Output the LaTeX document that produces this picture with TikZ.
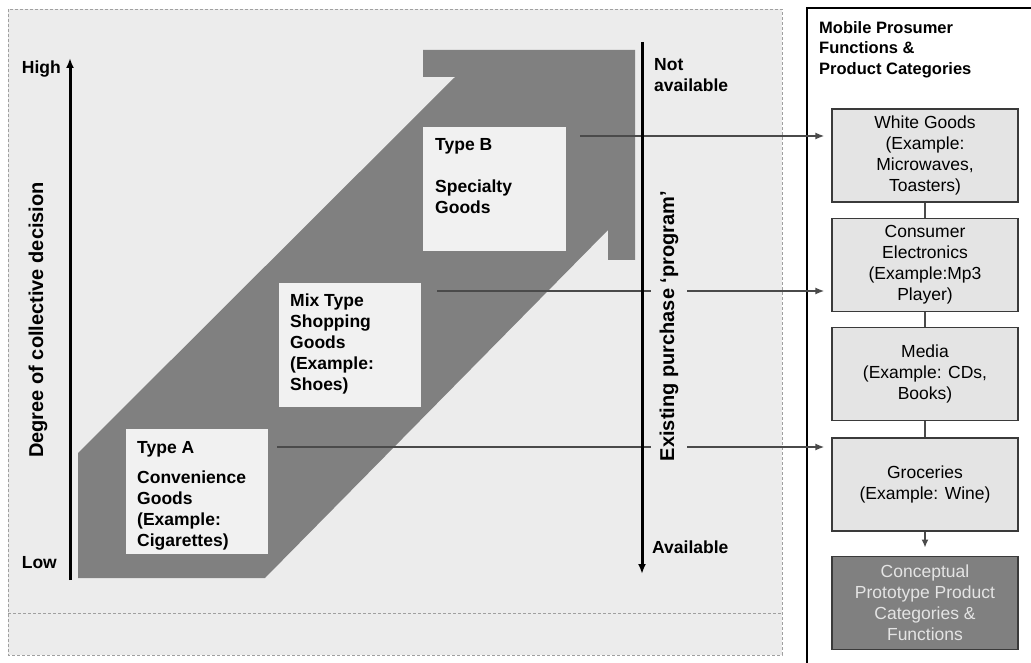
\documentclass[tikz,border=0pt]{standalone}
\usepackage{fontspec}
\setmainfont{Liberation Sans}
\usetikzlibrary{positioning,arrows.meta}
\definecolor{panel}{HTML}{ECECEC}
\definecolor{band}{HTML}{808080}
\definecolor{card}{HTML}{F1F1F1}
\definecolor{catfill}{HTML}{E4E4E4}
\definecolor{catline}{HTML}{3A3A3A}
\definecolor{linkgray}{HTML}{4A4A4A}
\definecolor{dashgray}{HTML}{A0A0A0}
\begin{document}
\begin{tikzpicture}[x=1pt, y=-1pt,
    axis/.style={line width=3pt, -{Latex[length=10pt,width=8pt]}},
    axislabel/.style={font=\fontsize{20}{24}\selectfont\bfseries},
    endlabel/.style={align=left, inner sep=0pt, font=\fontsize{17.5}{21}\selectfont\bfseries},
    typebox/.style={fill=card, inner sep=0pt, anchor=north west},
    typetext/.style={anchor=north west, align=left, inner sep=0pt, font=\fontsize{17.5}{21}\selectfont\bfseries},
    catbox/.style={draw=catline, line width=1.3pt, fill=catfill, minimum width=186pt, minimum height=93pt, align=center, inner sep=2pt, font=\fontsize{17.5}{21}\selectfont},
    feed/.style={draw=linkgray, line width=1.5pt, -{Latex[length=9pt,width=7pt]}, shorten >=7pt},
    chain/.style={draw=linkgray, line width=1.5pt}]
    \useasboundingbox (0,0) rectangle (1031,663);

    % left panel
    \draw[draw=dashgray, fill=panel, line width=0.8pt, dash pattern=on 3pt off 2pt] (8,9) rectangle (782,655);
    \draw[draw=dashgray, line width=0.8pt, dash pattern=on 3pt off 2pt] (8,613) -- (782,613);

    % right panel
    \draw[line width=1.1pt] (1031,8) -| (807,663);

    % rising band
    \fill[band] (78,578) -- (78,453) -- (455,77) -- (423,77) -- (423,50) -- (635,50)
        -- (635,260) -- (608,260) -- (608,230) -- (265,578) -- cycle;

    % goods types
    \node[typebox, minimum width=142pt, minimum height=125pt] (ta) at (126,429) {};
    \node[typetext] (tat) at ([xshift=11pt,yshift=-12pt]ta.north west) {Type A\\[9pt]Convenience\\Goods\\(Example:\\Cigarettes)};
    \node[typebox, minimum width=142pt, minimum height=124pt] (mx) at (279,283) {};
    \node[typetext] (mxt) at ([xshift=11pt,yshift=-11pt]mx.north west) {Mix Type\\Shopping\\Goods\\(Example:\\Shoes)};
    \node[typebox, minimum width=143pt, minimum height=124pt] (tb) at (423,127) {};
    \node[typetext] (tbt) at ([xshift=12pt,yshift=-11pt]tb.north west) {Type B\\[21pt]Specialty\\Goods};

    % categories
    \node[endlabel, anchor=north west, font=\fontsize{16.5}{20.5}\selectfont\bfseries] (hd) at (819,21) {Mobile Prosumer\\Functions \&\\Product Categories};
    \node[catbox] (wg) at (925,155.5) {White Goods\\(Example:\\Microwaves,\\Toasters)};
    \node[catbox, below=15pt of wg] (ce) {Consumer\\Electronics\\(Example:Mp3\\Player)};
    \node[catbox, below=15pt of ce] (md) {Media\\(Example: CDs,\\Books)};
    \node[catbox, below=16pt of md] (gr) {Groceries\\(Example: Wine)};
    \node[catbox, below=24pt of gr, fill=band, text=catfill] (cp) {Conceptual\\Prototype Product\\Categories \&\\Functions};
    \draw[chain] (wg) -- (ce);
    \draw[chain] (ce) -- (md);
    \draw[chain] (md) -- (gr);
    \draw[chain, -{Latex[length=8pt,width=7pt]}, shorten >=8pt] (gr) -- (cp);

    % links to categories
    \coordinate (sB) at ([xshift=14pt,yshift=-9pt]tb.north east);
    \coordinate (sM) at ([xshift=16pt,yshift=-8pt]mx.north east);
    \coordinate (sA) at ([xshift=9pt,yshift=-18pt]ta.north east);
    \draw[feed] (sB) -- (sB -| wg.west);
    \draw[feed] (sM) -- (sM -| ce.west);
    \draw[feed] (sA) -- (sA -| gr.west);

    % collective decision axis
    \coordinate (lo) at (70,580);
    \coordinate (hi) at (70,58);
    \draw[axis] (lo) -- (hi);
    \node[endlabel, anchor=east] (high) at (61,69) {High};
    \node[endlabel, anchor=east] (low) at (57,563) {Low};
    \node[axislabel, rotate=90] (deg) at (38,320) {Degree of collective decision};

    % purchase program axis
    \coordinate (na) at (642,42);
    \coordinate (av) at (642,574);
    \draw[axis] (na) -- (av);
    \node[endlabel, anchor=north west] (notav) at (654,58) {Not\\available};
    \node[endlabel, anchor=west] (avail) at (652,547) {Available};
    \node[axislabel, rotate=90, fill=panel, inner ysep=9pt, inner xsep=1pt] (prog) at (669,326) {Existing purchase `program'};
\end{tikzpicture}
\end{document}
